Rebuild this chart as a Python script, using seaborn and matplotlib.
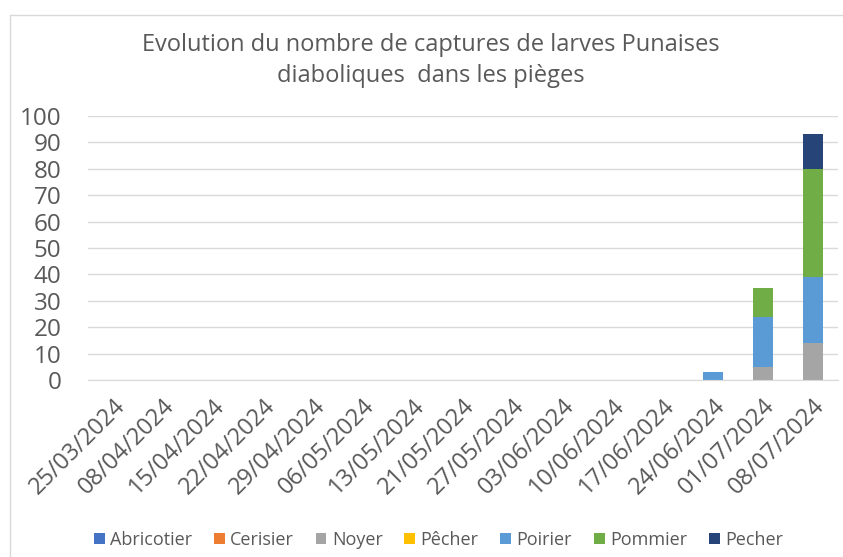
import numpy as np
import pandas as pd
import matplotlib
matplotlib.use("Agg")
import matplotlib.pyplot as plt
import seaborn as sns
from matplotlib.patches import Patch
from matplotlib.lines import Line2D

# Dates de relevé
dates = ["25/03/2024", "08/04/2024", "15/04/2024", "22/04/2024", "29/04/2024",
         "06/05/2024", "13/05/2024", "21/05/2024", "27/05/2024", "03/06/2024",
         "10/06/2024", "17/06/2024", "24/06/2024", "01/07/2024", "08/07/2024"]

# Séries (ordre d'empilement)
series = ["Abricotier", "Cerisier", "Noyer", "Pêcher", "Poirier", "Pommier", "Pecher"]
abricotier = [0] * 15
cerisier = [0] * 15
noyer = [0, 0, 0, 0, 0, 0, 0, 0, 0, 0, 0, 0, 0, 5, 14]
pecher_acc = [0] * 15
poirier = [0, 0, 0, 0, 0, 0, 0, 0, 0, 0, 0, 0, 3, 19, 25]
pommier = [0, 0, 0, 0, 0, 0, 0, 0, 0, 0, 0, 0, 0, 11, 41]
pecher = [0, 0, 0, 0, 0, 0, 0, 0, 0, 0, 0, 0, 0, 0, 13]

colors = ["#4472C4", "#ED7D31", "#A5A5A5", "#FFC000", "#5B9BD5", "#70AD47", "#264478"]


def main():
    sns.set_style("white")
    plt.rcParams["font.family"] = ["Open Sans", "DejaVu Sans"]
    txt = "#595959"

    df = pd.DataFrame({"date": dates, "Abricotier": abricotier, "Cerisier": cerisier,
                       "Noyer": noyer, "Pêcher": pecher_acc, "Poirier": poirier,
                       "Pommier": pommier, "Pecher": pecher})
    cum = df[series].cumsum(axis=1)

    fig = plt.figure(figsize=(8.43, 5.57), dpi=100)
    ax = fig.add_axes([88 / 843, 1 - 380 / 557, 750 / 843, 264 / 557])

    # superposition des cumuls, du haut vers le bas
    for s, c in reversed(list(zip(series, colors))):
        sns.barplot(x=df["date"], y=cum[s], color=c, saturation=1, width=0.4,
                    ax=ax, order=dates, linewidth=0)

    ax.set_ylim(0, 100)
    ax.set_yticks(range(0, 101, 10))
    ax.yaxis.grid(True, color="#d9d9d9", linewidth=1)
    ax.set_axisbelow(True)
    for side in ["top", "right", "left"]:
        ax.spines[side].set_visible(False)
    ax.spines["bottom"].set_color("#d9d9d9")
    ax.set_xlabel("")
    ax.set_ylabel("")
    ax.tick_params(axis="y", length=0, labelsize=17.5, labelcolor=txt, pad=19)
    ax.tick_params(axis="x", length=0, labelsize=17, labelcolor=txt, pad=10)
    plt.setp(ax.get_xticklabels(), rotation=45, ha="right", rotation_mode="anchor")

    fig.text(0.511, 1 - 45 / 557, "Evolution du nombre de captures de larves Punaises",
             ha="center", va="center", fontsize=17, color=txt)
    fig.text(0.511, 1 - 76 / 557, "diaboliques  dans les pièges",
             ha="center", va="center", fontsize=17, color=txt)

    handles = [Patch(facecolor=c, edgecolor="none") for c in colors]
    fig.legend(handles, series, loc="center", bbox_to_anchor=(0.52, 1 - 540 / 557),
               ncol=7, frameon=False, fontsize=13, labelcolor=txt,
               handlelength=0.6, handleheight=0.6, handletextpad=0.3, columnspacing=1.2)

    # cadre du graphique
    fig.add_artist(Line2D([10 / 843, 10 / 843], [0, 1 - 15 / 557], color="#d9d9d9", lw=1))
    fig.add_artist(Line2D([10 / 843, 1], [1 - 15 / 557, 1 - 15 / 557], color="#d9d9d9", lw=1))

    fig.savefig("out.png", dpi=100)
    plt.close(fig)


if __name__ == "__main__":
    main()
